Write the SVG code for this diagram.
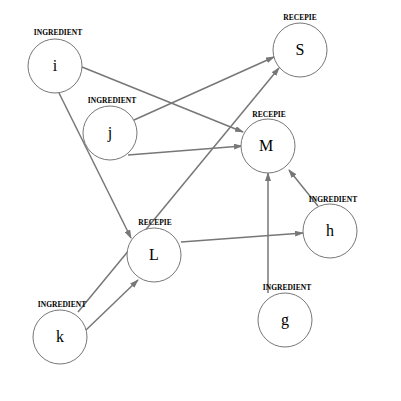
<svg xmlns="http://www.w3.org/2000/svg" width="401" height="401" viewBox="0 0 401 401">
<style>
.bg{fill:#fff}
.node circle{fill:#fff;stroke:#777;stroke-width:1}
.node .name{font-family:"Liberation Serif",serif;font-size:16px;text-anchor:middle;fill:#000}
.node .type{font-family:"Liberation Serif",serif;font-size:7.5px;font-weight:bold;text-anchor:middle;fill:#000}
.links line{stroke:#777;stroke-width:1.5;marker-end:url(#arrow)}
</style>
<defs>
<marker id="arrow" markerUnits="userSpaceOnUse" markerWidth="9" markerHeight="6" refX="8" refY="3" orient="auto">
<path d="M0,0 L9,3 L0,6 z" fill="#777"/>
</marker>
</defs>
<rect class="bg" x="0" y="0" width="401" height="401"/>
<g class="links">
<line x1="82" y1="67" x2="243" y2="132"/>
<line x1="59" y1="93" x2="131" y2="238"/>
<line x1="134" y1="120" x2="274" y2="57"/>
<line x1="128" y1="155" x2="242" y2="146"/>
<line x1="78" y1="312" x2="279" y2="68"/>
<line x1="86" y1="330" x2="138" y2="280"/>
<line x1="181" y1="242" x2="303" y2="233"/>
<line x1="318" y1="206" x2="289" y2="170"/>
<line x1="268" y1="293" x2="268" y2="173"/>
</g>
<g id="node-i" class="node"><circle cx="55" cy="66" r="27"/><text class="type" x="58" y="35">INGREDIENT</text><text class="name" x="55" y="71">i</text></g>
<g id="node-j" class="node"><circle cx="110" cy="133" r="27"/><text class="type" x="112" y="103">INGREDIENT</text><text class="name" x="110" y="138">j</text></g>
<g id="node-S" class="node"><circle cx="300" cy="50" r="27"/><text class="type" x="300" y="20">RECEPIE</text><text class="name" x="300" y="55">S</text></g>
<g id="node-M" class="node"><circle cx="268" cy="146" r="27"/><text class="type" x="269" y="117">RECEPIE</text><text class="name" x="266" y="151">M</text></g>
<g id="node-h" class="node"><circle cx="330" cy="231" r="27"/><text class="type" x="333" y="202">INGREDIENT</text><text class="name" x="330" y="236">h</text></g>
<g id="node-g" class="node"><circle cx="285" cy="320" r="27"/><text class="type" x="287" y="290">INGREDIENT</text><text class="name" x="285" y="325">g</text></g>
<g id="node-k" class="node"><circle cx="60" cy="337" r="27"/><text class="type" x="62" y="307">INGREDIENT</text><text class="name" x="60" y="342">k</text></g>
<g id="node-L" class="node"><circle cx="154" cy="255" r="27"/><text class="type" x="155" y="225">RECEPIE</text><text class="name" x="154" y="260">L</text></g>
</svg>
